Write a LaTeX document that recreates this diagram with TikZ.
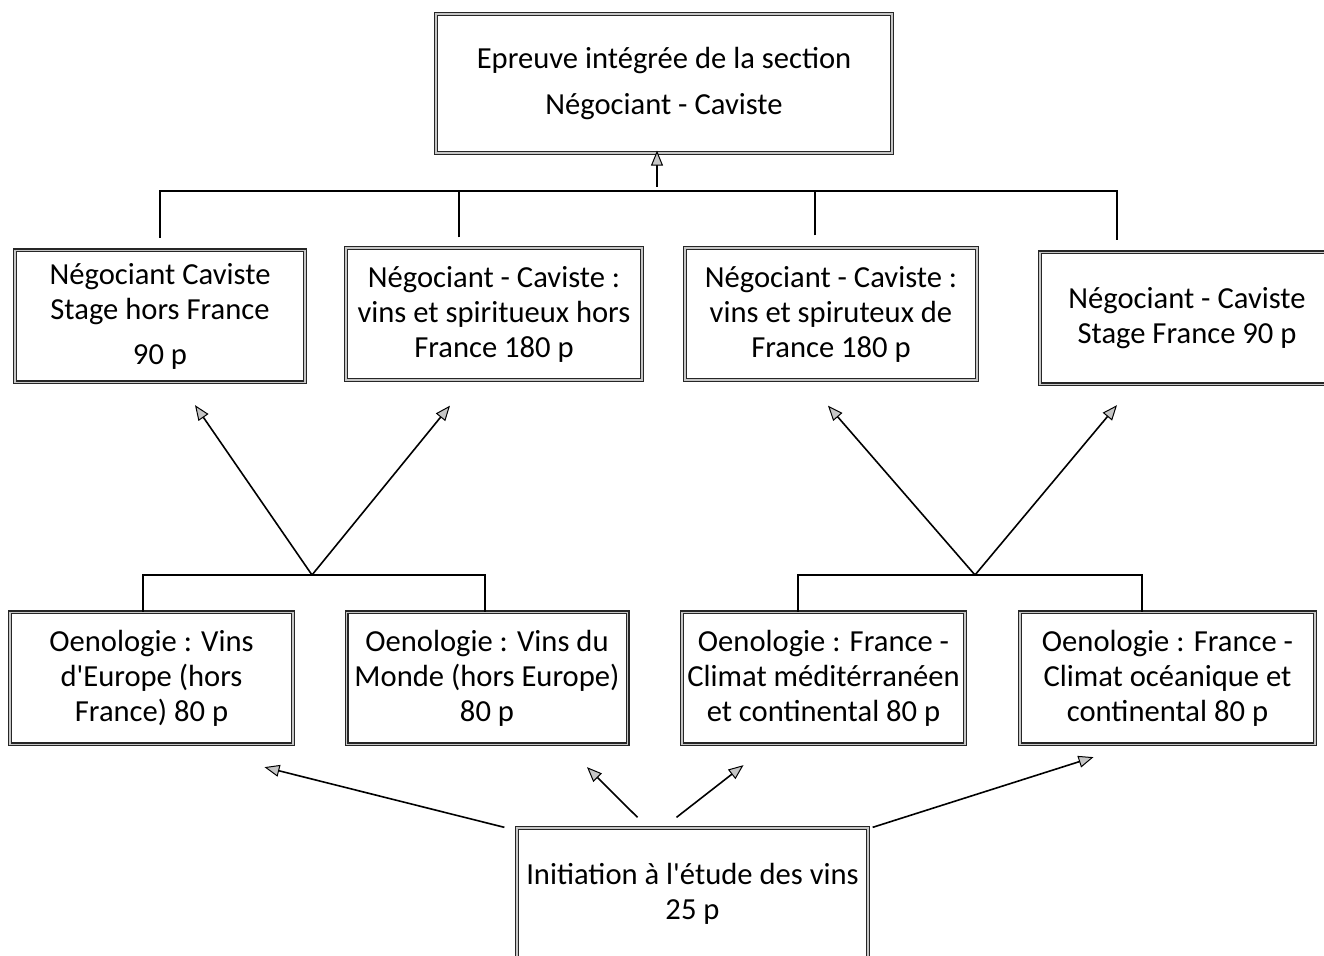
\documentclass[tikz,border=0pt]{standalone}
\usepackage{fontspec}
\setmainfont{Carlito}[Ligatures=TeXOff]
\usetikzlibrary{arrows.meta,calc}

\tikzset{every picture/.style={line width=0.8pt}}
\tikzset{
  box/.style={draw=black!85, line width=0.65pt, double=gray!45, double distance=0.7pt,
    align=center, minimum height=66pt, inner sep=1pt,
    font=\fontsize{15.3}{17.5}\selectfont},
  arr/.style={-{Triangle[fill=gray!45, length=7.5pt, width=6pt, line width=0.5pt]}},
}

\begin{document}
\begin{tikzpicture}[x=0.5pt,y=0.5pt,yscale=-1,xscale=1]
\useasboundingbox (0,0) rectangle (1324,956);

%Shape: Rectangle [top]
\node [box, minimum width=228pt, minimum height=69.5pt] (epreuve) at (664,83.5)
  {Epreuve intégrée de la section\\[5.5pt] Négociant - Caviste};

%Shape: Rectangle [second row]
\node [box, minimum width=145pt] (stagehf) at (160,316.5)
  {Négociant Caviste\\ Stage hors France\\[5pt] 90 p};
\node [box, minimum width=148pt] (vinshf) at (494,314)
  {Négociant - Caviste :\\ vins et spiritueux hors\\ France 180 p};
\node [box, minimum width=146pt] (vinsf) at (831,314)
  {Négociant - Caviste :\\ vins et spiruteux de\\ France 180 p};
\node [box, minimum width=147pt] (stagef) at (1187,318.5)
  {Négociant - Caviste\\ Stage France 90 p};

%Shape: Rectangle [third row]
\node [box, minimum width=141.5pt] (europe) at (151.5,678.5)
  {Oenologie : Vins\\ d'Europe (hors\\ France) 80 p};
\node [box, minimum width=140.5pt] (monde) at (487,678.5)
  {Oenologie : Vins du\\ Monde (hors Europe)\\ 80 p};
\node [box, minimum width=141.5pt] (medit) at (823.5,678.5)
  {Oenologie : France -\\ Climat méditérranéen\\ et continental 80 p};
\node [box, minimum width=147.5pt] (ocean) at (1167.5,678.5)
  {Oenologie : France -\\ Climat océanique et\\ continental 80 p};

%Shape: Rectangle [bottom]
\node [box, minimum width=175.5pt] (initiation) at (692.5,894)
  {Initiation à l'étude des vins\\ 25 p};

%Tree to the top box
\coordinate (hubtop) at (657,191);
\draw ($(stagehf.north)+(0,-12)$) |- (hubtop) -| ($(stagef.north)+(-70,-12)$);
\draw ($(vinshf.north)+(-35,-10)$) -- ($(vinshf.north)+(-35,-57)$);
\draw ($(vinsf.north)+(-16,-12)$) -- ($(vinsf.north)+(-16,-57)$);
\draw [arr] ($(hubtop)+(0,-4)$) -- ($(epreuve.south)+(-7,-3)$);

%Tree on the left
\coordinate (hubl) at (312,575);
\draw (europe.north -| 143,0) |- (hubl) -| (monde.north -| 485,0);
\draw [arr] (hubl) -- ($(stagehf.south)+(35,22)$);
\draw [arr] (hubl) -- ($(vinshf.south)+(-44,25)$);

%Tree on the right
\coordinate (hubr) at (975,575);
\draw (medit.north -| 798,0) |- (hubr) -| (ocean.north -| 1142,0);
\draw [arr] (hubr) -- ($(vinsf.south)+(-3,25)$);
\draw [arr] (hubr) -- ($(stagef.south)+(-70,20)$);

%Arrows from the bottom box
\draw [arr] ($(initiation.north west)+(-12,0)$) -- ($(europe.south)+(113,22)$);
\draw [arr] ($(initiation.north)+(-55,-10)$) -- ($(monde.south)+(100,22)$);
\draw [arr] ($(initiation.north)+(-16,-10)$) -- ($(medit.south)+(-80,20)$);
\draw [arr] ($(initiation.north east)+(4,0)$) -- ($(ocean.south)+(-74,12)$);

\end{tikzpicture}
\end{document}
